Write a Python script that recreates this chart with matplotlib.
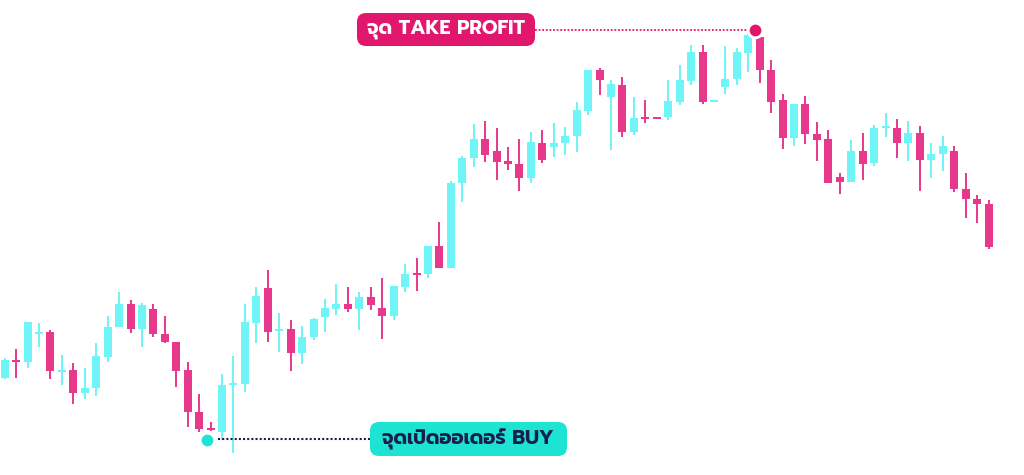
import matplotlib
matplotlib.use("Agg")
import matplotlib.pyplot as plt
from matplotlib.patches import FancyBboxPatch
from matplotlib.transforms import IdentityTransform
import numpy as np

# OHLC candles (arbitrary price units)
OPEN = [122, 139.5, 138, 166.5, 168, 128.5, 130, 107, 112, 143,
        173, 196, 171, 191, 166, 158, 130, 88, 71.5, 68,
        115, 116, 177, 212, 169.5, 171, 147, 163, 183, 191,
        196, 191, 203, 192, 184, 213, 226.5, 226, 254, 232,
        317, 342, 361, 349, 339, 336, 322, 357, 353, 357,
        364, 389, 430, 403, 415, 368, 382.5, 382.5, 383, 398,
        419, 448, 398.5, 413, 421, 447, 463, 430, 400, 362,
        396, 366, 361, 323, 318, 349, 337, 372.5, 372, 357,
        367, 340, 346, 349, 311, 301, 296]
HIGH = [142, 151, 178, 177, 170, 145, 137, 132, 157, 184,
        208, 200, 197, 196, 184, 158, 138, 106, 78, 126,
        144, 196, 213, 230, 187, 180, 174, 182, 201, 216,
        213, 208, 213, 222, 214, 236, 242, 254, 278, 319,
        344, 376, 379, 372, 353, 361, 368, 370, 377, 373,
        398, 430, 432, 420, 423, 403, 400, 383, 420, 435,
        455, 455, 400, 454, 452, 467, 465, 440, 406, 396,
        404, 378, 370, 327, 360, 367, 375, 387, 381, 379,
        374, 357, 364, 354, 327, 305, 300]
LOW = [121, 122, 132, 153, 121, 115, 96, 101, 104, 138,
       173, 167, 153, 163, 157, 113, 73, 68, 69, 60,
       47, 108, 157, 158, 148, 129, 136, 160, 168, 185,
       188, 170, 190, 161, 180, 208, 209, 222, 232, 232,
       298, 333, 338, 320, 330, 309, 317, 337, 343, 345,
       348, 385, 405, 350, 363, 365, 377, 381, 380, 395,
       415, 396, 398, 406, 415, 428, 417, 387, 351, 354,
       356, 339, 317, 306, 318, 320, 334, 363, 342, 339,
       309, 322, 329, 308, 282, 277, 251]
CLOSE = [140, 138.5, 178, 167.5, 129, 129.5, 107, 112, 144, 173,
         196, 171, 195, 166, 158, 129, 88, 71, 70, 115,
         116, 178, 204, 168, 170.5, 147, 163, 181, 192, 196,
         191, 203, 195, 184, 214, 226, 225.5, 254, 232, 317,
         342, 361, 345, 338, 336, 322, 358, 340, 357, 364,
         390, 430, 420, 416, 368, 382, 381.5, 381.5, 399, 420,
         448, 398, 399.5, 421, 448, 465, 430, 398, 362, 396,
         366, 360, 317, 318, 349, 336, 372, 374.5, 357, 367,
         340, 346, 354, 311, 301, 296, 253]

# annotated points: (candle position, price)
BUY_POINT = (17.7, 60)
TP_POINT = (65.6, 470)
BUY_LABEL = "จุดเปิดออเดอร์ BUY"
TP_LABEL = "จุด TAKE PROFIT"

CYAN = "#6ff4f7"
PINK = "#e8388b"
TP_COLOR = "#e0176d"
BUY_COLOR = "#1de3d3"
NAVY = "#1b1d4d"

THAI_FONT = ["Prompt", "DejaVu Sans"]

fig = plt.figure(figsize=(10.24, 4.75), dpi=100)
ax = fig.add_axes([0, 0, 1, 1])
ax.set_xlim(-0.41, 89.1)
ax.set_ylim(25, 500)
ax.axis("off")

o = np.array(OPEN)
h = np.array(HIGH)
l = np.array(LOW)
c = np.array(CLOSE)
x = np.arange(len(o))
up = c >= o
colors = np.where(up, CYAN, PINK)

ax.vlines(x, l, h, colors=colors, linewidth=1.4, zorder=1)
bottom = np.minimum(o, c)
height = np.maximum(np.abs(c - o), 1.6)
ax.bar(x, height, bottom=bottom, width=0.7, color=colors, linewidth=0, zorder=2)

# markers
ax.scatter([TP_POINT[0]], [TP_POINT[1]], s=110, color=TP_COLOR,
           edgecolors="white", linewidths=2.0, zorder=5)
ax.scatter([BUY_POINT[0]], [BUY_POINT[1]], s=100, color=BUY_COLOR,
           edgecolors="white", linewidths=1.5, zorder=5)

# dotted leader lines (display pixels)
ident = IdentityTransform()
ax.plot([535, 747], [445, 445], transform=ident, color=TP_COLOR,
        linestyle=(0, (1, 1)), linewidth=1.3, zorder=4)
ax.plot([218, 370], [36, 36], transform=ident, color=NAVY,
        linestyle=(0, (1, 1)), linewidth=1.5, zorder=4)

# label boxes
tp_box = FancyBboxPatch((357, 429), 178, 33, boxstyle="round,pad=0,rounding_size=9",
                        transform=ident, facecolor=TP_COLOR, edgecolor="none", zorder=6)
buy_box = FancyBboxPatch((370, 19), 197, 34, boxstyle="round,pad=0,rounding_size=9",
                         transform=ident, facecolor=BUY_COLOR, edgecolor="none", zorder=6)
fig.add_artist(tp_box)
fig.add_artist(buy_box)

fig.text(446 / 1024, 445.5 / 475, TP_LABEL, ha="center", va="center", color="white",
         fontsize=14, fontweight="bold", family=THAI_FONT, zorder=7)
fig.text(468 / 1024, 36 / 475, BUY_LABEL, ha="center", va="center", color=NAVY,
         fontsize=14, fontweight="bold", family=THAI_FONT, zorder=7)

fig.savefig("out.png", dpi=100, facecolor="white")
